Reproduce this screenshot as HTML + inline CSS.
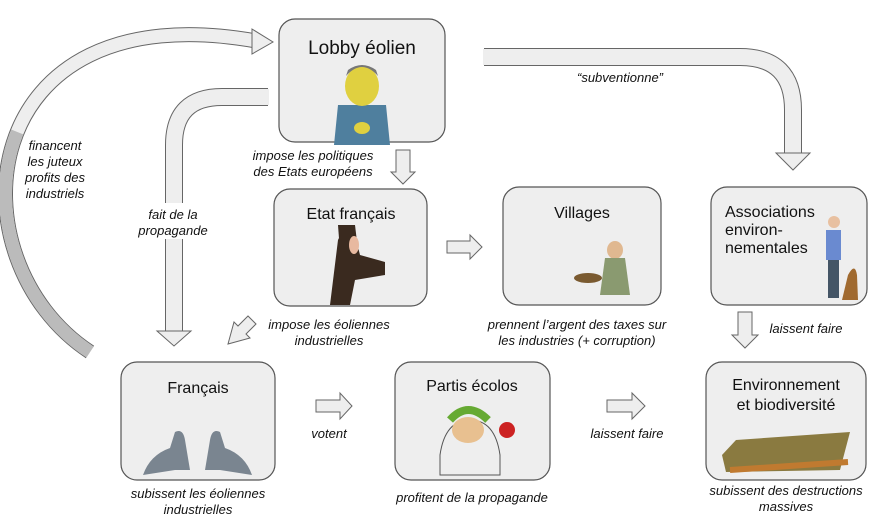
<!DOCTYPE html>
<html><head><meta charset="utf-8"><style>
html,body{margin:0;padding:0;background:#fff}
svg{display:block}
text{font-family:"Liberation Sans",Arial,sans-serif;fill:#111}
.i{font-style:italic;font-size:13px}
.t{font-size:16px}
</style></head><body>
<svg width="881" height="529" viewBox="0 0 881 529" xmlns="http://www.w3.org/2000/svg">
<!-- curved left arrow -->
<path d="M90 352 C -50 260, -30 -10, 256 41" fill="none" stroke="#666" stroke-width="15"/>
<path d="M90 352 C -50 260, -30 -10, 256 41" fill="none" stroke="#eee" stroke-width="13"/>
<path d="M90 352 C -50 260, -30 -10, 256 41" fill="none" stroke="#bbb" stroke-width="13" stroke-dasharray="250 2000"/>
<polygon points="252,29 273,42 252,54" fill="#eee" stroke="#666"/>
<!-- propagande arrow -->
<path d="M268 97 L 222 97 Q 174 97 174 145 L 174 331" fill="none" stroke="#666" stroke-width="18"/>
<path d="M269 97 L 222 97 Q 174 97 174 145 L 174 332" fill="none" stroke="#eee" stroke-width="16"/>
<polygon points="157,331 191,331 174,346" fill="#eee" stroke="#666"/>
<rect x="140" y="203" width="68" height="36" fill="#fff"/>
<!-- subventionne arrow -->
<path d="M484 57 L 740 57 Q 793 57 793 110 L 793 153" fill="none" stroke="#666" stroke-width="18"/>
<path d="M483 57 L 740 57 Q 793 57 793 110 L 793 154" fill="none" stroke="#eee" stroke-width="16"/>
<polygon points="776,153 810,153 793,170" fill="#eee" stroke="#666"/>
<!-- small arrows -->
<polygon points="396,150 410,150 410,172 415,172 403,184 391,172 396,172" fill="#eee" stroke="#666"/>
<polygon points="447,241 470,241 470,235 482,247 470,259 470,253 447,253" fill="#eee" stroke="#666"/>
<polygon points="256,324 248,316 238,326 234,322 228,344 250,338 246,334" fill="#eee" stroke="#666"/>
<polygon points="316,400 340,400 340,393 352,406 340,419 340,412 316,412" fill="#eee" stroke="#666"/>
<polygon points="607,400 632,400 632,393 645,406 632,419 632,412 607,412" fill="#eee" stroke="#666"/>
<polygon points="738,312 752,312 752,335 758,335 745,348 732,335 738,335" fill="#eee" stroke="#666"/>
<!-- boxes -->
<g fill="#eee" stroke="#555" stroke-width="1.2">
<rect x="279" y="19" width="166" height="123" rx="16"/>
<rect x="274" y="189" width="153" height="117" rx="16"/>
<rect x="503" y="187" width="158" height="118" rx="16"/>
<rect x="711" y="187" width="156" height="118" rx="16"/>
<rect x="121" y="362" width="154" height="118" rx="16"/>
<rect x="395" y="362" width="155" height="118" rx="16"/>
<rect x="706" y="362" width="160" height="118" rx="16"/>
</g>
<!-- images -->
<g>
<path d="M334 145 L338 105 L386 105 L390 145Z" fill="#4f7f9e"/>
<ellipse cx="362" cy="86" rx="17" ry="20" fill="#e0d040"/>
<path d="M346 76 Q362 58 378 76 L376 70 Q362 60 348 70Z" fill="#777"/>
<ellipse cx="362" cy="128" rx="8" ry="6" fill="#e0d040"/>
<path d="M330 305 L338 240 Q345 225 355 235 L360 255 L385 262 L385 275 L355 280 L350 305Z" fill="#3a2a1f"/>
<path d="M338 225 L355 225 L358 250 L340 252Z" fill="#3a2a1f"/>
<ellipse cx="354" cy="245" rx="5" ry="9" fill="#e8b9a0"/>
<ellipse cx="615" cy="250" rx="8" ry="9" fill="#e0b890"/>
<path d="M605 258 L625 258 L630 295 L600 295Z" fill="#8a9a70"/>
<ellipse cx="588" cy="278" rx="14" ry="5" fill="#7a5a30"/>
<circle cx="834" cy="222" r="6" fill="#e8c0a0"/>
<rect x="826" y="230" width="15" height="30" fill="#6a8ad0"/>
<rect x="828" y="260" width="11" height="38" fill="#456"/>
<path d="M842 300 L848 275 Q855 262 857 275 L858 300Z" fill="#a06a30"/>
<path d="M143 475 Q150 455 170 448 L175 432 Q183 428 185 440 L190 470 L175 470 Z" fill="#7a8590"/>
<path d="M252 475 Q245 455 225 448 L220 432 Q212 428 210 440 L205 470 L220 470 Z" fill="#7a8590"/>
<path d="M440 455 Q445 420 470 420 Q495 420 500 455 L500 475 L440 475Z" fill="#eee" stroke="#555"/>
<ellipse cx="468" cy="430" rx="16" ry="13" fill="#e8c090"/>
<path d="M450 420 Q468 400 488 420" fill="none" stroke="#6a3" stroke-width="8"/>
<circle cx="507" cy="430" r="8" fill="#c22"/>
<path d="M722 455 L736 440 L850 432 L840 470 L726 472Z" fill="#8a7a40"/>
<path d="M730 470 L848 462" stroke="#c07a30" stroke-width="6"/>
</g>
<!-- titles -->
<text x="362" y="54" font-size="19" text-anchor="middle">Lobby éolien</text>
<text class="t" x="351" y="219" text-anchor="middle">Etat français</text>
<text class="t" x="582" y="218" text-anchor="middle">Villages</text>
<text class="t" x="725" y="217">Associations</text>
<text class="t" x="725" y="235">environ-</text>
<text class="t" x="725" y="253">nementales</text>
<text class="t" x="198" y="393" text-anchor="middle">Français</text>
<text class="t" x="472" y="391" text-anchor="middle">Partis écolos</text>
<text class="t" x="786" y="390" text-anchor="middle">Environnement</text>
<text class="t" x="786" y="410" text-anchor="middle">et biodiversité</text>
<!-- labels -->
<g class="i" text-anchor="middle">
<text class="i" x="55" y="150">financent</text>
<text class="i" x="55" y="166">les juteux</text>
<text class="i" x="55" y="182">profits des</text>
<text class="i" x="55" y="198">industriels</text>
<text class="i" x="173" y="219">fait de la</text>
<text class="i" x="173" y="235">propagande</text>
<text class="i" x="313" y="160">impose les politiques</text>
<text class="i" x="313" y="176">des Etats européens</text>
<text class="i" x="620" y="82">“subventionne”</text>
<text class="i" x="329" y="329">impose les éoliennes</text>
<text class="i" x="329" y="345">industrielles</text>
<text class="i" x="577" y="329">prennent l’argent des taxes sur</text>
<text class="i" x="577" y="345">les industries (+ corruption)</text>
<text class="i" x="806" y="333">laissent faire</text>
<text class="i" x="329" y="438">votent</text>
<text class="i" x="627" y="438">laissent faire</text>
<text class="i" x="198" y="498">subissent les éoliennes</text>
<text class="i" x="198" y="514">industrielles</text>
<text class="i" x="472" y="502">profitent de la propagande</text>
<text class="i" x="786" y="495">subissent des destructions</text>
<text class="i" x="786" y="511">massives</text>
</g>
</svg>
</body></html>
